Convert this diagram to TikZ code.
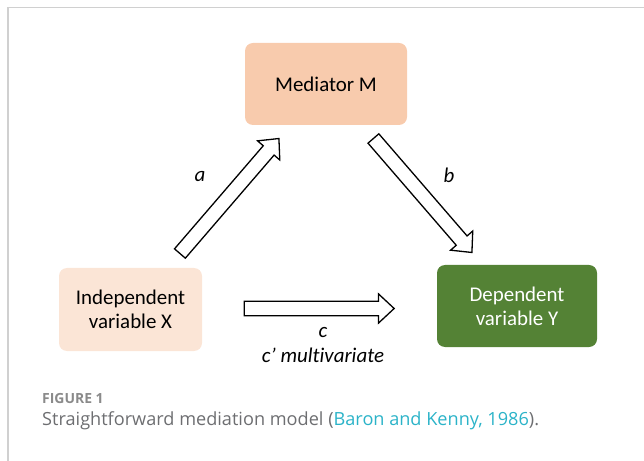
\documentclass[tikz,border=0pt]{standalone}
\usepackage{fontspec}
\setmainfont{Carlito}[Ligatures=NoCommon]
\newfontfamily\captionfont{Open Sans}
\usetikzlibrary{positioning,shapes.arrows,calc}
\definecolor{medfill}{HTML}{F8CBAD}
\definecolor{indfill}{HTML}{FBE5D6}
\definecolor{depfill}{HTML}{548235}
\definecolor{framegray}{HTML}{D0D0D0}
\definecolor{capgray}{HTML}{6D6E71}
\definecolor{figgray}{HTML}{8A8A8A}
\definecolor{linkcyan}{HTML}{2BB3C8}
\tikzstyle{var} = [rectangle, rounded corners=8bp, minimum width=160bp, minimum height=82bp, text centered, align=center, font=\fontsize{21}{24}\selectfont]
\tikzstyle{fatarrow} = [single arrow, draw=black, line width=1.3bp, fill=white, inner xsep=0pt, inner ysep=6.5bp, single arrow head extend=7.5bp, single arrow tip angle=86, single arrow head indent=0pt]
\tikzstyle{coef} = [font=\fontsize{21}{25}\selectfont\itshape, align=center]
\newcommand{\fatconnect}[2]{\path let \p1=($(#2)-(#1)$), \n1={atan2(\y1,\x1)}, \n2={veclen(\x1,\y1)} in (#1) node[fatarrow, minimum height=\n2, rotate=\n1, anchor=tail] {};}

\begin{document}
\begin{tikzpicture}[x=1bp,y=-1bp]
\useasboundingbox (0,0) rectangle (644,461);
\draw[framegray, line width=1.6bp] (8,461) -- (8,7.5) -- (644,7.5);

\node (med) [var, fill=medfill, minimum width=162bp] at (326,84) {Mediator M};
\node (ind) [var, fill=indfill, minimum width=143bp, minimum height=83bp] at (130.5,309.5) {Independent\\variable X};
\node (dep) [var, fill=depfill, text=white] at (517,306) {Dependent\\variable Y};

% arrow ends
\coordinate (atail) at (179.5,254);
\coordinate (atip) at (278.5,139);
\coordinate (btail) at (373,138);
\coordinate (btip) at (471.5,252);
\coordinate (ctail) at (243.5,308.5);
\coordinate (ctip) at (393.5,308.5);

\fatconnect{atail}{atip}
\fatconnect{btail}{btip}
\fatconnect{ctail}{ctip}

\node (alab) [coef] at (200,177) {a};
\node (blab) [coef] at (449,175) {b};
\node (clab) [coef] at (323,345) {c\\c’ multivariate};

\node (fig) [anchor=base west, inner sep=0pt, text=figgray, font=\captionfont\bfseries\fontsize{14}{16}\selectfont] at (42,403) {FIGURE 1};
\node (cap) [anchor=base west, inner sep=0pt, text=capgray, font=\captionfont\fontsize{18.2}{22}\selectfont] at (42,425) {Straightforward mediation model (\textcolor{linkcyan}{Baron and Kenny, 1986}).};
\end{tikzpicture}
\end{document}
